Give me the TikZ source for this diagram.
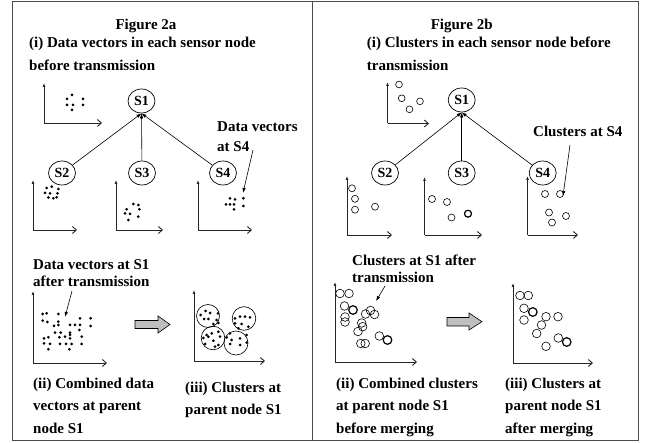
\documentclass[tikz,border=0pt]{standalone}
\usepackage{fontspec}
\setmainfont{Liberation Serif}
\usetikzlibrary{arrows.meta,shapes.geometric}
\newcommand{\myaxes}[5]{%
  \coordinate (#1o) at (#2,#3);
  \coordinate (#1t) at (#2,#4);
  \coordinate (#1r) at (#5,#3);
  \draw[axisv] (#1o) -- (#1t);
  \draw[axish] (#1o) -- (#1r);}
\newcommand{\dts}[1]{\foreach \p in {#1}{\fill \p circle[radius=1.5pt];}}
\newcommand{\cls}[2]{\foreach \p in {#2}{\draw[clu] \p circle[radius=#1pt];}}
\newcommand{\clsB}[2]{\foreach \p in {#2}{\draw[cluB] \p circle[radius=#1pt];}}
\begin{document}
\begin{tikzpicture}[x=1pt,y=-1pt,
  lbl/.style={font=\fontsize{15}{23}\selectfont\bfseries, inner sep=0pt, align=left, anchor=base west},
  snode/.style={draw, ellipse, minimum width=27pt, minimum height=24pt, inner sep=0pt, font=\fontsize{14}{15}\selectfont\bfseries, line width=0.7pt},
  link/.style={line width=0.6pt, -{Latex[length=5pt,width=3.5pt]}},
  ann/.style={line width=0.6pt, -{Latex[length=5pt,width=3.5pt]}},
  axisv/.style={line width=0.9pt, draw=black!85, -{Latex[length=4pt,width=3pt]}},
  axish/.style={line width=0.9pt, draw=black!85, -{Straight Barb[length=4pt,width=7pt]}},
  clu/.style={draw, line width=0.6pt},
  cluB/.style={draw, line width=1.2pt},
  frame/.style={draw=black!70, line width=1pt},
  fat/.style={draw, fill=black!25, line width=0.6pt}
]
\fill[white] (0,0) rectangle (648,443);
\useasboundingbox (0,0) rectangle (648,443);
% frame
\draw[frame] (12,1.5) rectangle (638,440);
\draw[frame] (312,1.5) -- (312,440);

% ===== Figure 2a =====
\node[lbl, anchor=base] (t2a) at (146,30) {Figure 2a};
\node[lbl] (i2a) at (29,71) {(i) Data vectors in each sensor node\\before transmission};
\node[snode] (a1) at (141.5,101) {S1};
\node[snode] (a2) at (62,173) {S2};
\node[snode] (a3) at (142,173) {S3};
\node[snode] (a4) at (223,173) {S4};
\draw[link] (a2) -- (a1.south);
\draw[link] (a3) -- (a1.south);
\draw[link] (a4) -- (a1.south);
\node[lbl, font=\fontsize{15}{20}\selectfont\bfseries] (dv4) at (217,152) {Data vectors\\at S4};
\coordinate (dv4a) at (253,150);
\coordinate (dv4b) at (243,193);
\draw[ann] (dv4a) -- (dv4b);

\myaxes{a0}{44}{123}{83}{102}
\myaxes{a2}{33}{230}{180}{77}
\myaxes{a3}{116}{230}{180}{163}
\myaxes{a4}{198}{230}{180}{252}
\myaxes{a5}{33}{363}{291}{107}
\myaxes{a6}{194}{361}{290}{265}

\dts{(72,95),(67,99),(83,99),(67,105),(73,105),(83,105),(72,110)}
\dts{(46.7,188),(51.7,186.7),(58.3,189),(45,193),(50,193.5),(57.5,193.5),(48.3,197.5),(53.3,198.3),(56.7,197.3)}
\dts{(133.3,204),(138.3,205),(126.7,209.3),(139.3,209.3),(125,213.3),(130,214),(138.3,216.7),(128.3,220)}
\dts{(230,198.3),(235,199.3),(243.3,198.3),(226,204.3),(230,204.3),(234,204.3),(243.3,206),(234,209.3)}

\node[lbl, font=\fontsize{15}{17}\selectfont\bfseries] (dv1) at (33,287) {Data vectors at S1\\after transmission};
\coordinate (dv1a) at (72,291);
\coordinate (dv1b) at (65,317);
\draw[ann] (dv1a) -- (dv1b);

\dts{(42.7,314),(46.7,313.3),(58.3,314),(80,318.3),(90.7,318.3),(42.7,320.7),(47.3,322),(58.3,321.7),(54,326),(58.3,325),(70,325),(75,325),(80,325),(90.7,326),(55,332.7),(60.7,332.7),(70,332.7),(79.3,330),(44,338.3),(48.3,337.3),(59.3,337.3),(65,336.7),(70,335),(70,338.5),(81.7,336.7),(44,343.3),(50,344),(60,344),(66,344),(71.7,344),(81.7,344),(48.3,349.3),(69.3,349.3)}

\draw[fat] (135,320.5) -- (158,320.5) -- (158,316) -- (170,324.5) -- (158,333) -- (158,328.5) -- (135,328.5) -- cycle;

\draw[line width=0.6pt] (208,316) circle[radius=11.5pt];
\draw[line width=0.6pt] (244,318.5) circle[radius=11.8pt];
\draw[line width=0.6pt] (213,338) circle[radius=11.8pt];
\draw[line width=0.6pt] (236,343) circle[radius=12pt];
\dts{(205.7,311),(210,313),(200.5,315),(218,313.3),(204,319),(208.3,319),(216.7,320),(213.3,324),(218.3,323)}
\dts{(235,318.3),(240,316.7),(245,316.7),(250,317.3),(235,323.3),(241.7,324),(248.3,326.7),(238.3,328.3)}
\dts{(206.7,335),(211.7,333.3),(218.3,331.7),(203.3,338),(208.3,336.7),(220,336.7),(213.3,340.7),(205,344),(218.3,345),(215,346.7)}
\dts{(230,333.3),(226.7,337.3),(231.7,340),(240,338.3),(246.7,335),(230,344),(240,345),(246.7,342.7)}

\node[lbl] (ii2a) at (33,434) {(ii) Combined data\\vectors at parent\\node S1};
\node[lbl, font=\fontsize{15}{22}\selectfont\bfseries] (iii2a) at (185,415) {(iii) Clusters at\\parent node S1};

% ===== Figure 2b =====
\node[lbl, anchor=base] (t2b) at (461.7,30) {Figure 2b};
\node[lbl] (i2b) at (366.7,71) {(i) Clusters in each sensor node before\\transmission};
\node[snode] (b1) at (461.7,100) {S1};
\node[snode] (b2) at (385,173) {S2};
\node[snode] (b3) at (461.7,173) {S3};
\node[snode] (b4) at (542.7,173) {S4};
\draw[link] (b2) -- (b1.south);
\draw[link] (b3) -- (b1.south);
\draw[link] (b4) -- (b1.south);
\node[lbl] (cl4) at (533,136.5) {Clusters at S4};
\coordinate (cl4a) at (570,145);
\coordinate (cl4b) at (563,196);
\draw[ann] (cl4a) -- (cl4b);

\myaxes{b0}{387.5}{123.5}{82}{429}
\myaxes{b2}{347}{235}{176}{392}
\myaxes{b3}{424.5}{235}{177}{482}
\myaxes{b4}{527.5}{235}{176}{578}
\myaxes{b5}{335}{362}{282}{417}
\myaxes{b6}{513}{363}{283}{593}

\cls{3.4}{(399,84.5),(401.7,98.3),(420,101.3),(409.5,109.3)}
\cls{3.5}{(352,188.3),(355,198.8),(355,209.7),(375,206.7)}
\cls{3.5}{(432,199),(447,202),(451.5,217.5)}
\clsB{3.5}{(468,213.7)}
\cls{3.5}{(545,194),(560,194),(549,212.5),(566,216),(552,222.5)}

\node[lbl, font=\fontsize{15}{17}\selectfont\bfseries] (cl1) at (352,283) {Clusters at S1 after\\transmission};
\coordinate (cl1a) at (385,286);
\coordinate (cl1b) at (376,301);
\draw[ann] (cl1a) -- (cl1b);

\cls{4.3}{(340,293.5),(349,293.5),(344.5,306),(345,317),(345,322),(365.5,314),(370.5,310.5),(374.5,314.5),(361.7,323),(362.7,326.7),(358,331.5),(379.3,336),(360.8,343.5),(365.2,343.5)}
\clsB{4.3}{(353,310),(387.5,340)}

\draw[fat] (447,317.5) -- (469,317.5) -- (469,313) -- (482,321.7) -- (469,330) -- (469,326) -- (447,326) -- cycle;

\cls{4.3}{(520,295.5),(528.3,295.5),(524,308.3),(524,320),(546,316.7),(558,316.7),(541.5,325),(536.7,333.5),(558.3,338),(546,346.3)}
\clsB{4.3}{(532.8,312),(566.7,342)}

\node[lbl] (ii2b) at (336,434) {(ii) Combined clusters\\at parent node S1\\before merging};
\node[lbl] (iii2b) at (505,434) {(iii) Clusters at\\parent node S1\\after merging};
\end{tikzpicture}
\end{document}
